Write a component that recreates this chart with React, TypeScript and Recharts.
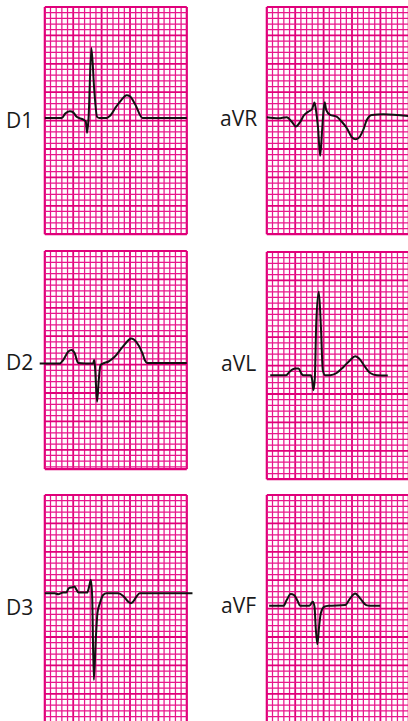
import React from "react";
import { LineChart, Line, XAxis, YAxis, ReferenceLine } from "recharts";

// one small square of the ECG paper, in px
const CELL = 142 / 25;
const COLS = 25;
const X_MIN = -1.2;
const X_MAX = 26.6;
const PAD = 2;

// traces: time in small squares from the grid's left edge, amplitude in small squares from baseline
const D1_T = [0, 3.0, 3.6, 4.4, 5.0, 5.6, 6.8, 7.2, 7.45, 7.7, 8.2, 8.7, 9.2, 9.6, 10.9, 11.5, 12.5, 13.5, 14.4, 15.0, 15.9, 17.2, 25];
const D1_V = [0, 0, 0.8, 1.2, 1.0, 0.2, -0.3, -0.6, -2.6, 0, 12.3, 5.0, 0.2, 0, 0, 0.4, 1.9, 3.2, 4.0, 3.8, 2.4, 0, 0];

const AVR_T = [0, 2.05, 3.5, 4.4, 5.1, 5.9, 6.5, 7.35, 7.95, 8.4, 8.65, 9.0, 9.4, 9.7, 10.0, 10.2, 10.45, 11.15, 12.3, 13.2, 14.1, 14.95, 15.7, 16.4, 17.0, 17.6, 18.5, 20.5, 25];
const AVR_V = [0, -0.2, 0, -0.8, -1.65, -0.8, 0.3, 1.0, 1.4, 2.6, 1.3, -1.65, -6.8, -2.8, 1.3, 2.65, 1.3, 0.4, 0.1, -0.8, -1.95, -3.5, -3.9, -3.4, -2.2, -0.5, 0.4, 0.5, 0.2];

const D2_T = [-0.9, 2.64, 3.23, 4.1, 4.7, 5.28, 5.87, 8.5, 8.7, 8.86, 9.2, 9.5, 9.8, 10.27, 11.15, 12.3, 13.8, 15.26, 16.1, 17.2, 17.6, 18.0, 25];
const D2_V = [0, 0, 0.6, 2.05, 2.35, 1.76, 0.1, 0, 0.6, -0.9, -6.75, -2.9, -0.3, 0, 0.3, 1.17, 3.05, 4.4, 3.8, 1.76, 0.6, 0.1, 0.1];

const AVL_T = [0.6, 3.4, 4.0, 5.0, 5.6, 6.16, 6.45, 7.75, 8.0, 8.2, 8.45, 8.7, 9.15, 9.5, 9.86, 10.27, 11.15, 12.3, 13.5, 14.67, 15.55, 16.43, 17.3, 18.2, 19.4, 21.3];
const AVL_V = [0, 0, 0.6, 1.17, 1.17, 0.18, 0, 0, -0.9, -2.64, -0.6, 9.1, 14.7, 9.1, 0.9, 0, 0, 0.4, 1.47, 2.64, 3.35, 2.76, 1.47, 0.4, 0, -0.06];

const D3_T = [0, 1.76, 2.35, 3.2, 3.8, 4.2, 4.87, 5.2, 5.6, 5.93, 7.45, 7.8, 8.1, 8.33, 8.63, 9.0, 9.27, 9.7, 10.27, 10.86, 12.9, 13.8, 14.67, 15.14, 15.55, 16.14, 16.7, 26.0];
const D3_V = [0, 0, -0.18, 0.12, 0.12, 0.88, 1.06, 1.17, 0.59, 0.12, 0.12, 1.17, 2.35, -0.3, -15.26, -7.6, -3.5, -1.76, -0.3, 0, 0, -0.47, -1.47, -1.76, -1.47, -0.59, 0, 0];

const AVF_T = [0.41, 2.93, 3.5, 4.2, 4.8, 5.4, 5.87, 7.5, 8.1, 8.4, 8.6, 8.9, 9.2, 9.5, 10.1, 10.86, 13.8, 14.67, 15.55, 16.43, 17.5, 18.2, 19.95];
const AVF_V = [0, 0, 1.0, 2.05, 1.88, 0.88, 0, 0, 0.7, -0.18, -3.7, -6.75, -3.7, -1.35, -0.18, 0, 0.12, 1.3, 2.17, 1.3, 0.12, 0, 0];

// layout of each strip: grid left/top in px, baseline in squares from top, grid height in squares
const PANELS = [
  { name: "D1", left: 45, top: 7, base: 19.54, rows: 40, labelLeft: 6, labelTop: 110, t: D1_T, v: D1_V },
  { name: "aVR", left: 267.3, top: 7, base: 19.4, rows: 40, labelLeft: 220, labelTop: 108, t: AVR_T, v: AVR_V },
  { name: "D2", left: 45, top: 251, base: 19.8, rows: 38.4, labelLeft: 6, labelTop: 352, t: D2_T, v: D2_V },
  { name: "aVL", left: 267.3, top: 251.7, base: 21.7, rows: 40, labelLeft: 221, labelTop: 353, t: AVL_T, v: AVL_V },
  { name: "D3", left: 45, top: 495, base: 17.3, rows: 40, labelLeft: 6, labelTop: 597, t: D3_T, v: D3_V },
  { name: "aVF", left: 267.3, top: 495, base: 19.5, rows: 40, labelLeft: 221, labelTop: 595, t: AVF_T, v: AVF_V },
];

const MINOR = "#e8168c";
const MAJOR = "#e0007a";

function Strip({ p }: { p: (typeof PANELS)[number] }) {
  const lo = p.base - p.rows;
  const hi = p.base;
  const data = p.t.map((t, i) => ({ t, v: p.v[i] }));
  const width = (X_MAX - X_MIN) * CELL;
  const height = p.rows * CELL + 2 * PAD;

  const cols = Array.from({ length: COLS + 1 }, (_, i) => i);
  const rows = Array.from({ length: Math.floor(p.rows) + 1 }, (_, i) => i);

  return (
    <div style={{ position: "absolute", left: p.left + X_MIN * CELL, top: p.top - PAD }}>
      <LineChart width={width} height={height} data={data} margin={{ top: PAD, right: 0, bottom: PAD, left: 0 }}>
        <XAxis type="number" dataKey="t" domain={[X_MIN, X_MAX]} hide allowDataOverflow />
        <YAxis type="number" domain={[lo, hi]} hide allowDataOverflow />
        {cols.map((c) => (
          <ReferenceLine
            key={"c" + c}
            segment={[{ x: c, y: hi }, { x: c, y: lo }]}
            stroke={c % 5 === 0 ? MAJOR : MINOR}
            strokeWidth={c === 0 || c === COLS ? 2.2 : c % 5 === 0 ? 1.8 : 1.25}
          />
        ))}
        {rows.map((r) => (
          <ReferenceLine
            key={"r" + r}
            segment={[{ x: 0, y: hi - r }, { x: COLS, y: hi - r }]}
            stroke={r % 5 === 0 ? MAJOR : MINOR}
            strokeWidth={r === 0 ? 2.2 : r % 5 === 0 ? 1.8 : 1.25}
          />
        ))}
        <ReferenceLine segment={[{ x: 0, y: lo }, { x: COLS, y: lo }]} stroke={MAJOR} strokeWidth={2.2} />
        <Line
          type="monotone"
          dataKey="v"
          stroke="#111"
          strokeWidth={2}
          dot={false}
          activeDot={false}
          isAnimationActive={false}
        />
      </LineChart>
      <div
        style={{
          position: "absolute",
          left: p.labelLeft - (p.left + X_MIN * CELL),
          top: p.labelTop - (p.top - PAD),
          fontFamily: "'Open Sans', sans-serif",
          fontSize: 21,
          lineHeight: "21px",
          color: "#1a1a1a",
          whiteSpace: "nowrap",
        }}
      >
        {p.name}
      </div>
    </div>
  );
}

export default function App() {
  return (
    <div
      style={{
        position: "fixed",
        left: 0,
        top: 0,
        width: 408,
        height: 721,
        overflow: "hidden",
        background: "#fff",
      }}
    >
      {PANELS.map((p) => (
        <Strip key={p.name} p={p} />
      ))}
    </div>
  );
}
